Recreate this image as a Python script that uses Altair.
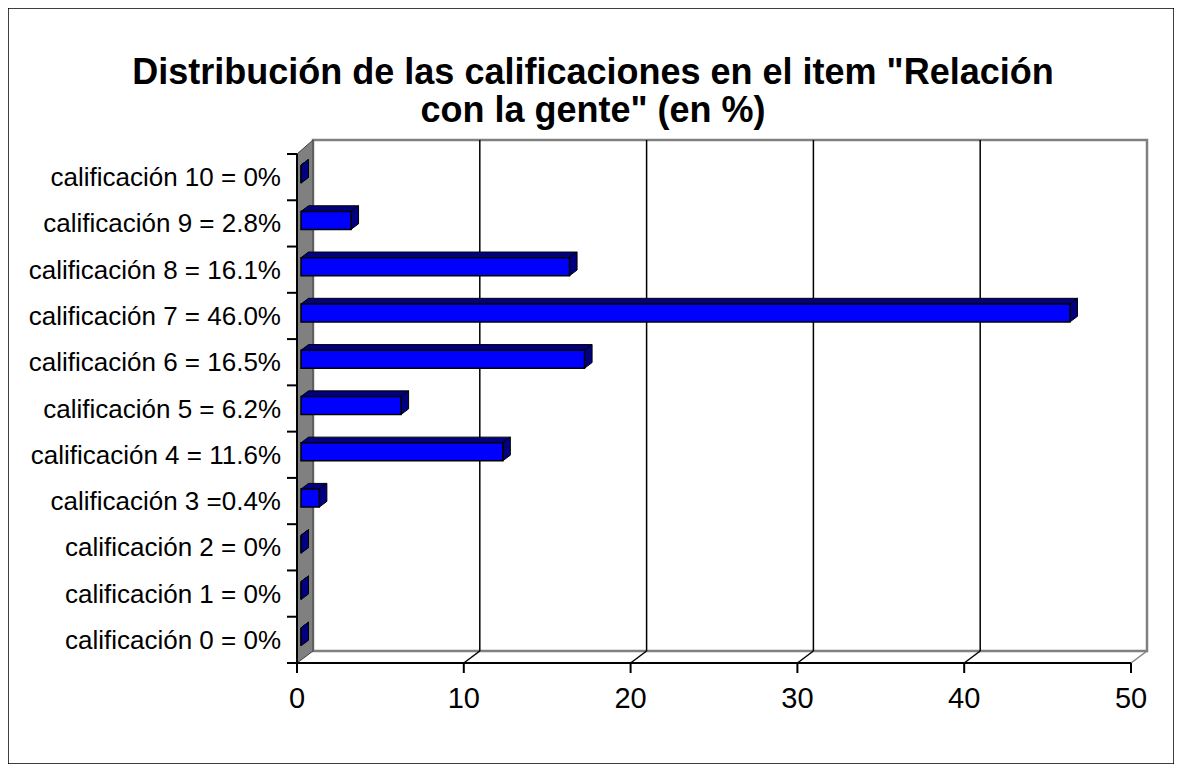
import altair as alt
import pandas as pd

# ---- data ----
labels = [
    "calificación 0 = 0%", "calificación 1 = 0%", "calificación 2 = 0%",
    "calificación 3 =0.4%", "calificación 4 = 11.6%", "calificación 5 = 6.2%",
    "calificación 6 = 16.5%", "calificación 7 = 46.0%", "calificación 8 = 16.1%",
    "calificación 9 = 2.8%", "calificación 10 = 0%",
]
values = [0, 0, 0, 1.1, 12.1, 6.0, 17.0, 46.1, 16.1, 3.0, 0]
x_ticks = [0, 10, 20, 30, 40, 50]
title_lines = ['Distribución de las calificaciones en el item "Relación',
               'con la gente" (en %)']

# ---- layout ----
W, H = 1166, 756
X_DOMAIN, X_RANGE = [0, 50], [289, 1123]
Y_DOMAIN, Y_RANGE = [-0.5, 10.5], [655, 146]
px_x = (X_RANGE[1] - X_RANGE[0]) / (X_DOMAIN[1] - X_DOMAIN[0])
px_y = (Y_RANGE[0] - Y_RANGE[1]) / (Y_DOMAIN[1] - Y_DOMAIN[0])
DXu = 16 / px_x     # full depth shift in x data units
DYu = 12 / px_y     # full depth shift in y data units
D0, D1 = 0.25, 0.72  # bar depth extent
HB = 9 / px_y       # half bar thickness
FONT = "Liberation Sans"
BLUE, NAVY, GRAY = "#0000FF", "#000080", "#808080"

xs = alt.Scale(domain=X_DOMAIN, range=X_RANGE, nice=False, zero=False)
ys = alt.Scale(domain=Y_DOMAIN, range=Y_RANGE, nice=False, zero=False)


def X(f="x"):
    return alt.X(f"{f}:Q", scale=xs, axis=None)


def Y(f="y"):
    return alt.Y(f"{f}:Q", scale=ys, axis=None, stack=None)


lo, hi = Y_DOMAIN
n = len(values)

# back wall
wall = pd.DataFrame([{"x": X_DOMAIN[0] + DXu, "x2": X_DOMAIN[1] + DXu,
                      "y": lo + DYu, "y2": hi + DYu + 2 / px_y}])
wall_l = alt.Chart(wall).mark_rect(fill="white", stroke=GRAY, strokeWidth=2.5).encode(
    x=X(), x2="x2:Q", y=Y(), y2="y2:Q")

# left wall (parallelogram)
lwall = pd.DataFrame([{"x": 0, "y": lo, "y2": hi},
                      {"x": DXu, "y": lo + DYu, "y2": hi + DYu + 2 / px_y}])
lwall_l = alt.Chart(lwall).mark_area(orient="vertical", fill=GRAY, stroke="#404040",
                                     strokeWidth=1).encode(x=X(), y=Y(), y2="y2:Q")

# gridlines on back wall
grid = pd.DataFrame([{"x": v + DXu, "y": lo + DYu, "y2": hi + DYu + 2 / px_y}
                     for v in x_ticks[1:-1]])
grid_l = alt.Chart(grid).mark_rule(color="black", strokeWidth=1.5).encode(
    x=X(), y=Y(), y2="y2:Q")

# floor diagonals
diag = pd.DataFrame([{"x": v, "x2": v + DXu, "y": lo, "y2": lo + DYu,
                      "c": "black" if v < x_ticks[-1] else GRAY} for v in x_ticks[1:]])
diag_l = alt.Chart(diag).mark_rule(strokeWidth=1.5).encode(
    x=X(), x2="x2:Q", y=Y(), y2="y2:Q", color=alt.Color("c:N", scale=None))

# front axes
xaxis = pd.DataFrame([{"x": X_DOMAIN[0], "x2": X_DOMAIN[1], "y": lo}])
xaxis_l = alt.Chart(xaxis).mark_rule(color="black", strokeWidth=2).encode(
    x=X(), x2="x2:Q", y=Y())
xt = pd.DataFrame([{"x": v, "y": lo, "y2": lo - 10 / px_y, "t": str(v)} for v in x_ticks])
xtick_l = alt.Chart(xt).mark_rule(color="black", strokeWidth=2).encode(x=X(), y=Y(), y2="y2:Q")
xlab_l = alt.Chart(xt).mark_text(font=FONT, fontSize=29, baseline="alphabetic",
                                 align="center", dy=45, color="black").encode(
    x=X(), y=Y(), text="t:N")

yaxis = pd.DataFrame([{"x": 0, "y": lo, "y2": hi}])
yaxis_l = alt.Chart(yaxis).mark_rule(color="black", strokeWidth=2).encode(x=X(), y=Y(), y2="y2:Q")
yt = pd.DataFrame([{"x": 0, "x2": -10 / px_x, "y": lo + i} for i in range(n + 1)])
ytick_l = alt.Chart(yt).mark_rule(color="black", strokeWidth=2).encode(x=X(), x2="x2:Q", y=Y())
yl = pd.DataFrame([{"x": 0, "y": i, "t": labels[i]} for i in range(n)])
ylab_l = alt.Chart(yl).mark_text(font=FONT, fontSize=26, align="right", baseline="alphabetic",
                                 dx=-16, dy=9, color="black").encode(x=X(), y=Y(), text="t:N")

# bars: front, top and side faces
front, top, side = [], [], []
for i, v in enumerate(values):
    yc0 = i + D0 * DYu
    yc1 = i + D1 * DYu
    front.append({"x": D0 * DXu, "x2": v + D0 * DXu, "y": yc0 - HB, "y2": yc0 + HB})
    top.append({"b": i, "y": yc0 + HB, "x": D0 * DXu, "x2": v + D0 * DXu})
    top.append({"b": i, "y": yc1 + HB, "x": D1 * DXu, "x2": v + D1 * DXu})
    side.append({"b": i, "x": v + D0 * DXu, "y": yc0 - HB, "y2": yc0 + HB})
    side.append({"b": i, "x": v + D1 * DXu, "y": yc1 - HB, "y2": yc1 + HB})

top_l = alt.Chart(pd.DataFrame(top)).mark_area(
    orient="horizontal", fill=NAVY, stroke="black", strokeWidth=1).encode(
    y=alt.Y("y:Q", scale=ys, axis=None), x=alt.X("x:Q", scale=xs, axis=None, stack=None),
    x2="x2:Q", detail="b:N")
side_l = alt.Chart(pd.DataFrame(side)).mark_area(
    orient="vertical", fill=NAVY, stroke="black", strokeWidth=1).encode(
    x=X(), y=Y(), y2="y2:Q", detail="b:N")
front_l = alt.Chart(pd.DataFrame(front)).mark_rect(
    fill=BLUE, stroke="black", strokeWidth=1.5).encode(x=X(), x2="x2:Q", y=Y(), y2="y2:Q")

# title (one two-line text)
t_df = pd.DataFrame([{"k": 0}])
title_l = alt.Chart(t_df).mark_text(font=FONT, fontSize=36, fontWeight="bold",
                                    align="center", baseline="alphabetic", lineHeight=38,
                                    text=title_lines, color="black").encode(
    x=alt.value(W / 2 + 2), y=alt.value(76))

chart = alt.layer(
    wall_l, lwall_l, grid_l, diag_l, xaxis_l, xtick_l, xlab_l, yaxis_l, ytick_l, ylab_l,
    top_l, side_l, front_l, title_l,
).properties(width=W, height=H, padding=0, background="white").configure_view(
    stroke="black", strokeWidth=1.5)

chart.save("out.html", embed_options={"renderer": "svg", "actions": False})
